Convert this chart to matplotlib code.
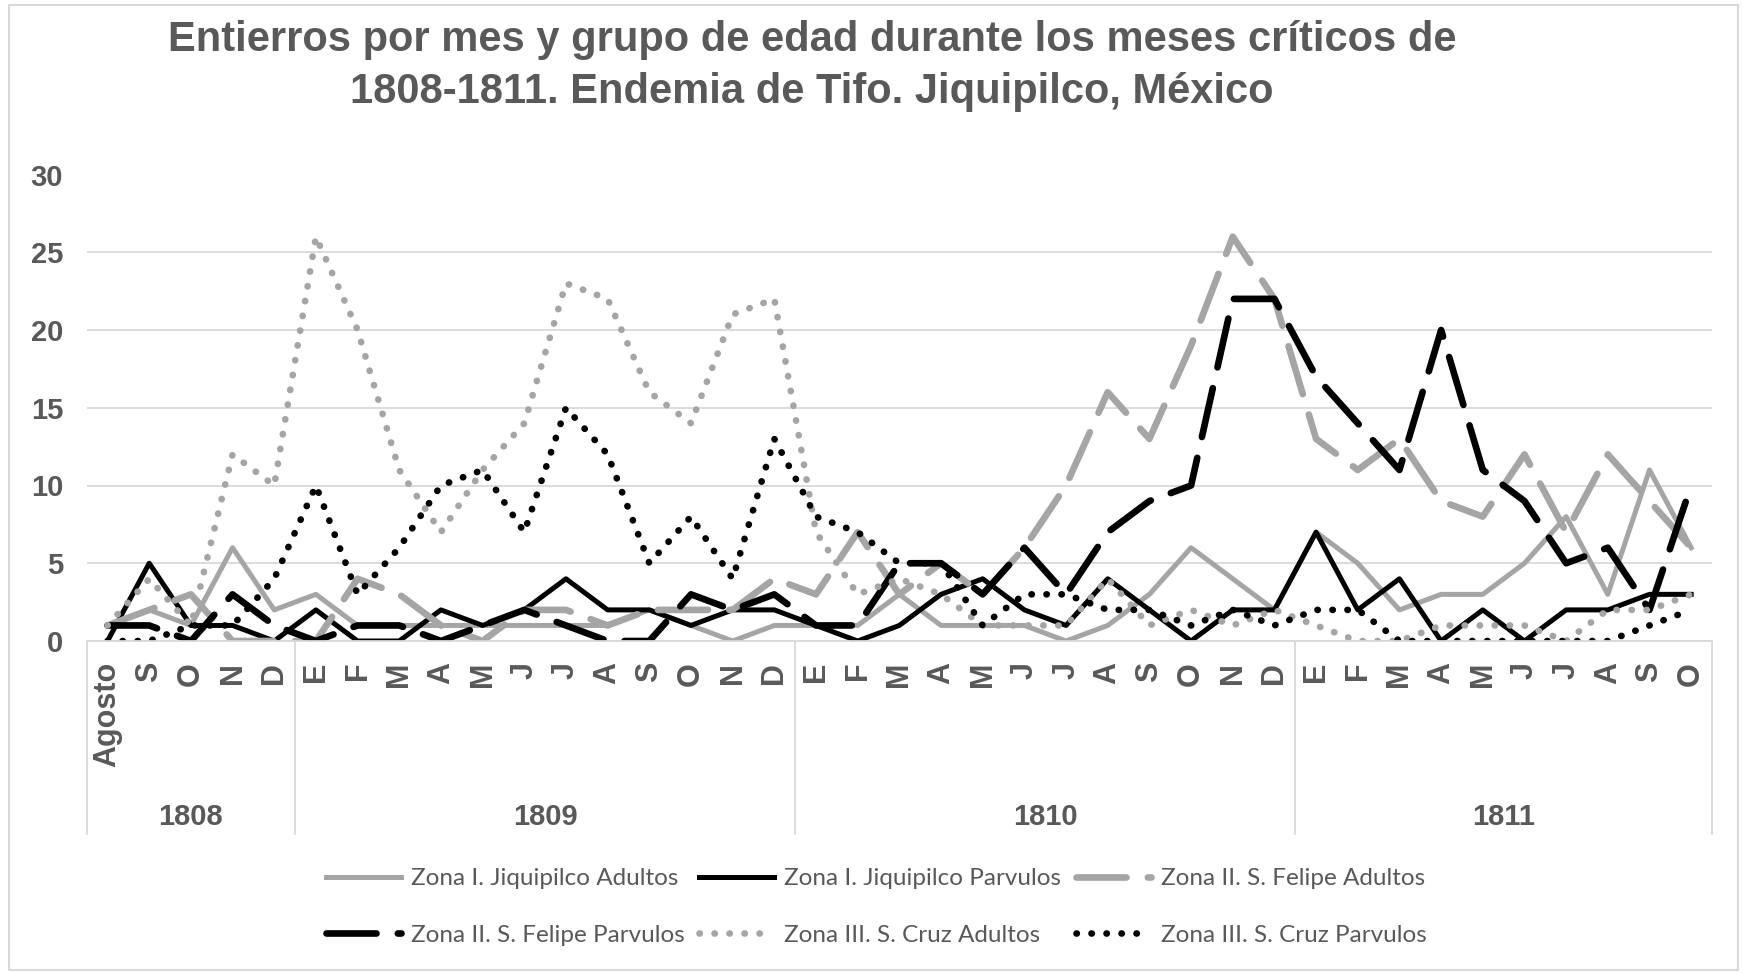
import matplotlib.pyplot as plt
from matplotlib.patches import Rectangle
from matplotlib.transforms import blended_transform_factory

# categories
months = ["Agosto", "S", "O", "N", "D",
          "E", "F", "M", "A", "M", "J", "J", "A", "S", "O", "N", "D",
          "E", "F", "M", "A", "M", "J", "J", "A", "S", "O", "N", "D",
          "E", "F", "M", "A", "M", "J", "J", "A", "S", "O"]
years = ["1808", "1809", "1810", "1811"]
months_per_year = [5, 12, 12, 10]

# series
z1_adultos = [1, 2, 1, 6, 2,
              3, 1, 1, 1, 1, 1, 1, 1, 2, 1, 0, 1,
              1, 1, 3, 1, 1, 1, 0, 1, 3, 6, 4, 2,
              7, 5, 2, 3, 3, 5, 8, 3, 11, 6]
z1_parvulos = [0, 5, 1, 1, 0,
               2, 0, 0, 2, 1, 2, 4, 2, 2, 1, 2, 2,
               1, 0, 1, 3, 4, 2, 1, 4, 2, 0, 2, 2,
               7, 2, 4, 0, 2, 0, 2, 2, 3, 3]
z2_adultos = [1, 2, 3, 0, 0,
              0, 4, 3, 1, 0, 2, 2, 1, 2, 2, 2, 4,
              3, 7, 3, 5, 3, 6, 10, 16, 13, 19, 26, 22,
              13, 11, 13, 9, 8, 12, 7, 12, 9, 6]
z2_parvulos = [1, 1, 0, 3, 1,
               0, 1, 1, 0, 1, 2, 1, 0, 0, 3, 2, 3,
               1, 1, 5, 5, 3, 6, 3, 7, 9, 10, 22, 22,
               17, 14, 11, 20, 11, 9, 5, 6, 2, 10]
z3_adultos = [1, 4, 1, 12, 10,
              26, 20, 11, 7, 11, 14, 23, 22, 16, 14, 21, 22,
              7, 3, 4, 3, 1, 1, 1, 4, 1, 2, 1, 2,
              1, 0, 0, 1, 1, 1, 0, 2, 2, 3]
z3_parvulos = [0, 0, 1, 1, 4,
               10, 3, 6, 10, 11, 7, 15, 12, 5, 8, 4, 13,
               8, 7, 5, 5, 1, 3, 3, 2, 2, 1, 2, 1,
               2, 2, 0, 0, 0, 0, 0, 0, 1, 2]

txt = "#595959"
gray = "#a5a5a5"
grid = "#d9d9d9"
plt.rcParams['font.family'] = ['Liberation Sans', 'DejaVu Sans']

fig = plt.figure(figsize=(17.43, 9.73), dpi=100)
ax = fig.add_axes([86.7 / 1743, 1 - 641 / 973, (1712 - 86.7) / 1743, (641 - 174.5) / 973])

x = list(range(len(months)))
dash = (0, (7.5, 3.2))
dot = (0, (0.05, 2.2))
h1, = ax.plot(x, z1_adultos, color=gray, lw=3.6)
h2, = ax.plot(x, z1_parvulos, color="black", lw=3.6)
h3, = ax.plot(x, z2_adultos, color=gray, lw=4.8, ls=dash, dash_capstyle="round")
h4, = ax.plot(x, z2_parvulos, color="black", lw=4.8, ls=dash, dash_capstyle="round")
h5, = ax.plot(x, z3_adultos, color=gray, lw=4.8, ls=dot, dash_capstyle="round")
h6, = ax.plot(x, z3_parvulos, color="black", lw=4.8, ls=dot, dash_capstyle="round")

ax.set_xlim(-0.5, len(months) - 0.5)
ax.set_ylim(0, 30)
ax.set_yticks(range(0, 31, 5))
ax.yaxis.grid(True, color=grid, lw=1.3)
ax.set_axisbelow(True)
for s in ["top", "right", "left"]:
    ax.spines[s].set_visible(False)
ax.spines["bottom"].set_color(grid)
ax.spines["bottom"].set_linewidth(1.3)

ax.set_xticks(x)
ax.set_xticklabels(months, rotation=90, fontweight="bold", fontsize=22, color=txt)
ax.tick_params(axis="x", length=0, pad=15)
ax.tick_params(axis="y", length=0, pad=17, labelsize=21, labelcolor=txt)
for t in ax.get_yticklabels():
    t.set_fontweight("bold")

# year groups below the months
tr = blended_transform_factory(ax.transData, ax.transAxes)
start = 0
bounds = [-0.5]
for yr, n in zip(years, months_per_year):
    ax.text(start + (n - 1) / 2, -0.378, yr, transform=tr, ha="center", va="center",
            fontsize=21, fontweight="bold", color=txt)
    start += n
    bounds.append(start - 0.5)
for b in bounds:
    ax.plot([b, b], [0, -0.414], transform=tr, color=grid, lw=1.3, clip_on=False)

fig.text(0.466, 1 - 40 / 973, "Entierros por mes y grupo de edad durante los meses críticos de",
         ha="center", va="center", fontsize=30, fontweight="bold", color=txt)
fig.text(0.466, 1 - 92 / 973, "1808-1811. Endemia de Tifo. Jiquipilco, México",
         ha="center", va="center", fontsize=30, fontweight="bold", color=txt)

labels = ["Zona I. Jiquipilco Adultos", "Zona I. Jiquipilco Parvulos", "Zona II. S. Felipe Adultos",
          "Zona II. S. Felipe Parvulos", "Zona III. S. Cruz Adultos", "Zona III. S. Cruz Parvulos"]
hs = [h1, h2, h3, h4, h5, h6]
order = [0, 3, 1, 4, 2, 5]
leg = fig.legend([hs[i] for i in order], [labels[i] for i in order], ncol=3, loc="center",
                 bbox_to_anchor=(876 / 1743, 1 - 907 / 973), frameon=False,
                 prop={"family": "Lato", "size": 17.5}, handlelength=3.1, handletextpad=0.4,
                 columnspacing=0.6, labelspacing=1.45)
for t in leg.get_texts():
    t.set_color(txt)

fig.patches.append(Rectangle((0.005, 0.003), 0.992, 0.992, transform=fig.transFigure,
                             fill=False, edgecolor=grid, lw=1.5))

plt.savefig("out.png", dpi=100)
